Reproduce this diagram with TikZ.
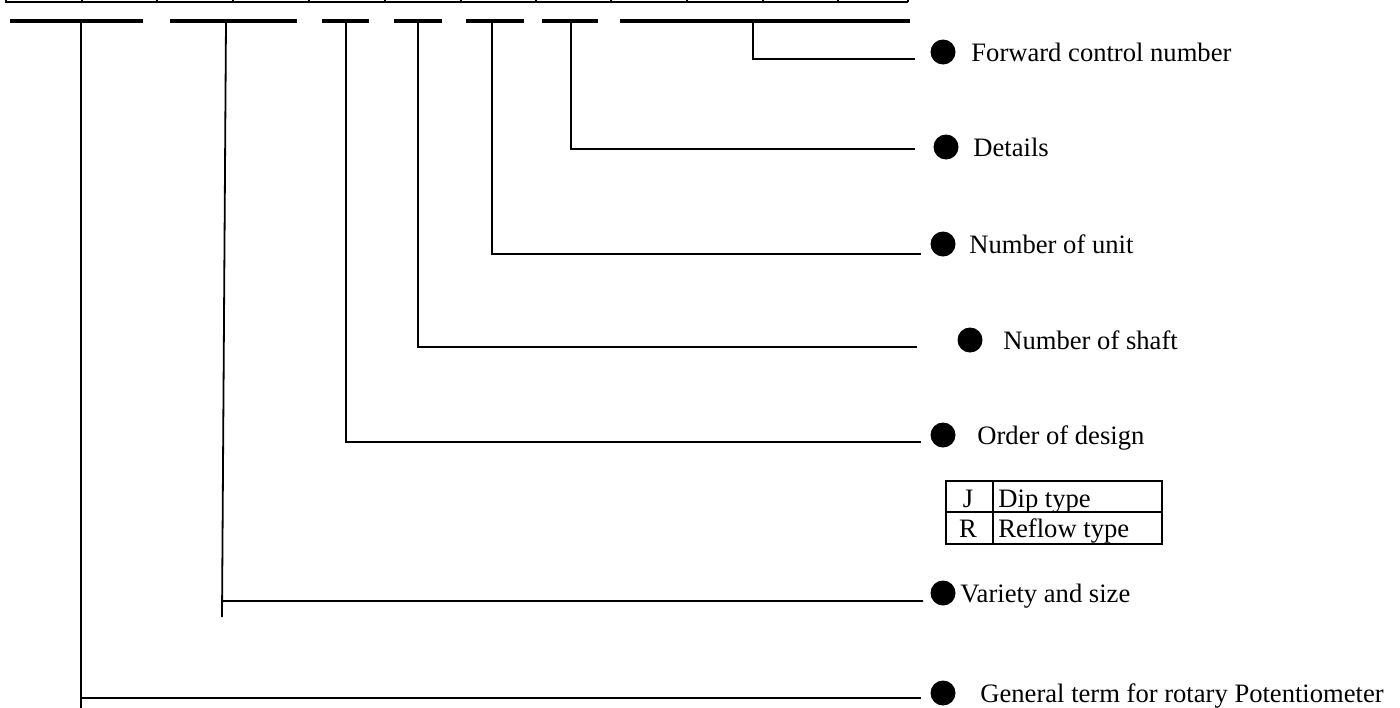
\documentclass[tikz,border=0pt]{standalone}
\usepackage{fontspec}
\setmainfont{Liberation Serif}

\begin{document}
\begin{tikzpicture}[x=0.5pt,y=-0.5pt,
	every node/.style={font=\fontsize{13.3}{16}\selectfont},
	lead/.style={line width=0.9pt},
	bar/.style={line width=1.8pt},
	cell/.style={line width=0.8pt},
	dot/.style={circle,fill=black,inner sep=0pt,minimum size=12.5pt},
	caption/.style={anchor=base west,inner sep=0pt},
	]
	\useasboundingbox (0,0) rectangle (1400,707);

	% bottom edge of the code boxes
	\draw[cell] (5,2) -- (908,2);
	\foreach \x in {6,82,157,233,309,385,461,536,611,687,763,838,908}
		\draw[cell] (\x,0) -- (\x,2);

	% groups of the code
	\foreach \a/\b in {10/143,170/297,322/369,394/442,466/524,542/598,620/910}
		\draw[bar] (\a,21) -- (\b,21);
	\foreach \n/\x in {1/81,2/226,3/346,4/418,5/492,6/571,7/753}
		\coordinate (g\n) at (\x,21);

	% bullets and their texts
	\foreach \n/\bx/\by/\tx/\ex/\ey/\txt in {
		7/943/52/971/915/59/Forward control number,
		6/946/147/973/915/149/Details,
		5/943/244/969/921/254/Number of unit,
		4/970/340/1003/917/347/Number of shaft,
		3/943/435/977/921/442/Order of design,
		2/943/593/960/923/601/Variety and size,
		1/943/693/980/921/698/General term for rotary Potentiometer}
	{
		\node[dot] (d\n) at (\bx,\by) {};
		\node[caption] (t\n) at (\tx,\by+9) {\txt};
		\coordinate (e\n) at (\ex,\ey);
	}

	\foreach \n in {3,...,7}
		\draw[lead] (g\n) |- (e\n);

	\coordinate (b2) at (222,617);
	\draw[lead] (g2) -- (b2) coordinate[pos=0.973] (k2);
	\draw[lead] (k2) -- (e2);

	\coordinate (b1) at (81,712);
	\draw[lead] (g1) -- (b1);
	\draw[lead] (g1 |- e1) -- (e1);

	% terminal type
	\draw[cell] (946,481) rectangle (1162,544);
	\draw[cell] (946,512) -- (1162,512);
	\draw[cell] (993,481) -- (993,544);
	\node[anchor=base] (J) at (968,507) {J};
	\node[caption] (dip) at (998,507) {Dip type};
	\node[anchor=base] (R) at (968,537) {R};
	\node[caption] (reflow) at (998,537) {Reflow type};
\end{tikzpicture}
\end{document}
